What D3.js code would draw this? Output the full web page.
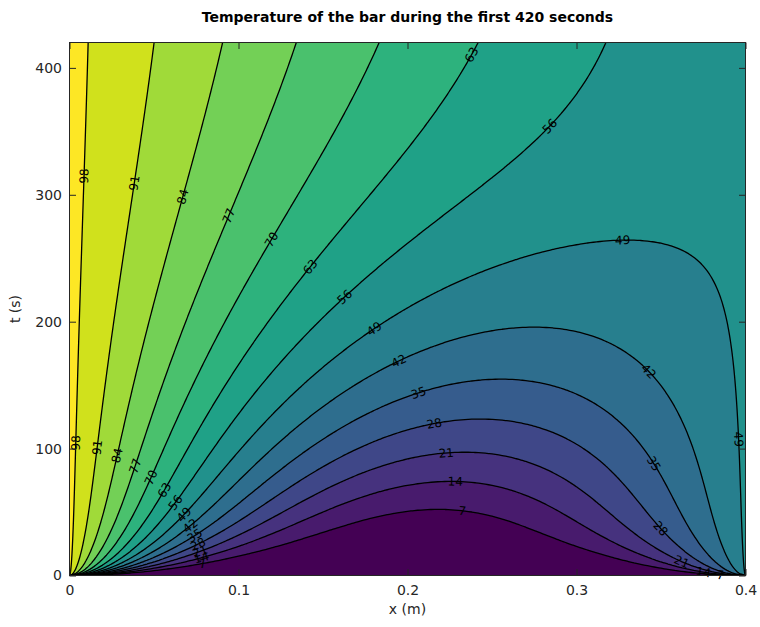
<!DOCTYPE html>
<html>
<head>
<meta charset="utf-8">
<script src="https://cdn.jsdelivr.net/npm/d3@7"></script>
<style>
  body { margin: 0; background: #fff; }
  text { font-family: "DejaVu Sans", sans-serif; }
</style>
</head>
<body>
<svg id="chart" width="760" height="627"></svg>
<script>
// temperature of a bar: left end held hot, right end warm, starts cold

/*  DATA  */

const barLength = 0.4,      // m
    tEnd = 420,             // s
    diffusivity = 1e-4;     // m^2/s

// fixed temperatures at the two ends (left, right) and the start temperature
const endTemps = [100, 50],
    startTemp = 0;

const levels = [7, 14, 21, 28, 35, 42, 49, 56, 63, 70, 77, 84, 91, 98];

const xTicks = [0, 0.1, 0.2, 0.3, 0.4],
    tTicks = [0, 100, 200, 300, 400];

const chartTitle = 'Temperature of the bar during the first 420 seconds',
    xLabel = 'x (m)',
    yLabel = 't (s)';

/*  SOLVE  */

// explicit finite differences, one stored row per second
const nx = 201,
    stepsPerSec = 50,
    nt = tEnd + 1;

const dx = barLength / (nx - 1),
    r = diffusivity / stepsPerSec / (dx * dx);

let u = new Float64Array(nx).fill(startTemp),
    next = new Float64Array(nx);
u[0] = endTemps[0];
u[nx - 1] = endTemps[1];

const grid = new Float64Array(nx * nt);
grid.set(u, 0);

for (let j = 1; j < nt; j++) {
    for (let s = 0; s < stepsPerSec; s++) {
        next[0] = u[0];
        next[nx - 1] = u[nx - 1];
        for (let i = 1; i < nx - 1; i++) {
            next[i] = u[i] + r * (u[i - 1] - 2 * u[i] + u[i + 1]);
        }
        [u, next] = [next, u];
    }
    grid.set(u, j * nx);
}

/*  CHART  */

const box = {left: 69.5, right: 745.5, top: 42.5, bottom: 575.5};
const ink = '#262626';

const svg = d3.select('#chart');

const x = d3.scaleLinear().domain([0, barLength]).range([box.left, box.right]),
    y = d3.scaleLinear().domain([0, tEnd]).range([box.bottom, box.top]);

// d3.contours puts cell i at i + 0.5
const gx = c => x((c - 0.5) * dx),
    gy = c => y(c - 0.5);

const toScreen = d3.geoTransform({
    point: function(px, py) { this.stream.point(gx(px), gy(py)); }
});
const fillPath = d3.geoPath(toScreen);

const color = i => d3.interpolateViridis(i / levels.length);

svg.append('clipPath').attr('id', 'plotclip')
    .append('rect')
    .attr('x', box.left).attr('y', box.top)
    .attr('width', box.right - box.left)
    .attr('height', box.bottom - box.top);

const plot = svg.append('g').attr('clip-path', 'url(#plotclip)');

plot.append('rect')
    .attr('x', box.left).attr('y', box.top)
    .attr('width', box.right - box.left)
    .attr('height', box.bottom - box.top)
    .attr('fill', color(0));

const contours = d3.contours()
    .size([nx, nt])
    .thresholds(levels)(grid);

plot.selectAll('path.band')
    .data(contours)
    .join('path')
    .attr('class', 'band')
    .attr('d', fillPath)
    .attr('fill', (d, i) => color(i + 1));

// pull the open iso-lines out of the filled rings (drop the parts on the border)
function isolines(c) {
    const runs = [];
    const onEdge = p => p[0] <= 0 || p[0] >= nx || p[1] <= 0 || p[1] >= nt;
    c.coordinates.forEach(poly => poly.forEach(ring => {
        const pts = ring.slice(0, -1),
            n = pts.length,
            k0 = pts.findIndex(onEdge);
        if (k0 < 0) { runs.push(ring); return; }
        let prev = pts[k0], run = null;
        for (let m = 1; m <= n; m++) {
            const p = pts[(k0 + m) % n];
            if (!onEdge(p)) {
                if (!run) run = [prev];
                run.push(p);
            } else if (run) {
                run.push(p);
                runs.push(run);
                run = null;
            }
            prev = p;
        }
    }));
    // screen coords, starting at the end nearest the origin
    const o = [x(0), y(0)];
    return runs.map(run => {
        let pts = run.map(p => [gx(p[0]), gy(p[1])]);
        const d0 = Math.hypot(pts[0][0] - o[0], pts[0][1] - o[1]),
            d1 = Math.hypot(pts[pts.length - 1][0] - o[0], pts[pts.length - 1][1] - o[1]);
        if (d1 < d0) pts.reverse();
        return pts;
    });
}

const lines = contours.map(c => ({value: c.value, runs: isolines(c)}));

const line = d3.line();

plot.selectAll('g.iso')
    .data(lines)
    .join('g')
    .attr('class', 'iso')
    .selectAll('path')
    .data(d => d.runs)
    .join('path')
    .attr('d', line)
    .attr('fill', 'none')
    .attr('stroke', '#000')
    .attr('stroke-width', 1.3);

// labels every labelGap px along each line, the first half a gap in
const labelGap = 267;

function pointAt(pts, cum, s) {
    let k = d3.bisectLeft(cum, s);
    k = Math.max(1, Math.min(k, pts.length - 1));
    const f = (s - cum[k - 1]) / ((cum[k] - cum[k - 1]) || 1);
    return [pts[k - 1][0] + f * (pts[k][0] - pts[k - 1][0]),
            pts[k - 1][1] + f * (pts[k][1] - pts[k - 1][1])];
}

const labels = [];
lines.forEach(l => l.runs.forEach(pts => {
    const cum = [0];
    for (let k = 1; k < pts.length; k++) {
        cum.push(cum[k - 1] + Math.hypot(pts[k][0] - pts[k - 1][0], pts[k][1] - pts[k - 1][1]));
    }
    const total = cum[cum.length - 1];
    for (let s = labelGap / 2; s <= total; s += labelGap) {
        const p = pointAt(pts, cum, s),
            a = pointAt(pts, cum, Math.max(0, s - 5)),
            b = pointAt(pts, cum, Math.min(total, s + 5));
        let ang = Math.atan2(b[1] - a[1], b[0] - a[0]) * 180 / Math.PI;
        if (ang > 90) ang -= 180;
        if (ang < -90) ang += 180;
        labels.push({value: l.value, x: p[0], y: p[1], ang: ang});
    }
}));

svg.append('g').selectAll('text')
    .data(labels)
    .join('text')
    .attr('transform', d => `translate(${d.x},${d.y}) rotate(${d.ang})`)
    .attr('text-anchor', 'middle')
    .attr('dy', '0.35em')
    .attr('font-size', 12)
    .attr('fill', '#000')
    .text(d => d.value);

/*  AXES  */

const tickLen = 6.5;

function styleAxis(g) {
    g.select('.domain').remove();
    g.selectAll('.tick line').attr('stroke', ink);
    g.selectAll('.tick text').attr('fill', ink).attr('font-size', 14)
        .attr('font-family', '"DejaVu Sans", sans-serif');
}

svg.append('g')
    .attr('transform', `translate(0,${box.bottom})`)
    .call(d3.axisBottom(x).tickValues(xTicks).tickFormat(d3.format('~g'))
        .tickSizeInner(-tickLen).tickSizeOuter(0).tickPadding(10))
    .call(styleAxis);

svg.append('g')
    .attr('transform', `translate(0,${box.top})`)
    .call(d3.axisTop(x).tickValues(xTicks).tickFormat('')
        .tickSizeInner(-tickLen).tickSizeOuter(0))
    .call(styleAxis);

svg.append('g')
    .attr('transform', `translate(${box.left},0)`)
    .call(d3.axisLeft(y).tickValues(tTicks)
        .tickSizeInner(-tickLen).tickSizeOuter(0).tickPadding(7.5))
    .call(styleAxis);

svg.append('g')
    .attr('transform', `translate(${box.right},0)`)
    .call(d3.axisRight(y).tickValues(tTicks).tickFormat('')
        .tickSizeInner(-tickLen).tickSizeOuter(0))
    .call(styleAxis);

svg.append('rect')
    .attr('x', box.left).attr('y', box.top)
    .attr('width', box.right - box.left)
    .attr('height', box.bottom - box.top)
    .attr('fill', 'none')
    .attr('stroke', ink)
    .attr('stroke-width', 1);

svg.append('text')
    .attr('x', (box.left + box.right) / 2)
    .attr('y', 22)
    .attr('text-anchor', 'middle')
    .attr('font-size', 14)
    .attr('font-weight', 'bold')
    .attr('fill', '#000')
    .text(chartTitle);

svg.append('text')
    .attr('x', (box.left + box.right) / 2)
    .attr('y', 614)
    .attr('text-anchor', 'middle')
    .attr('font-size', 14)
    .attr('fill', ink)
    .text(xLabel);

svg.append('text')
    .attr('transform', `translate(20,${(box.top + box.bottom) / 2}) rotate(-90)`)
    .attr('text-anchor', 'middle')
    .attr('font-size', 14)
    .attr('fill', ink)
    .text(yLabel);
</script>
</body>
</html>
